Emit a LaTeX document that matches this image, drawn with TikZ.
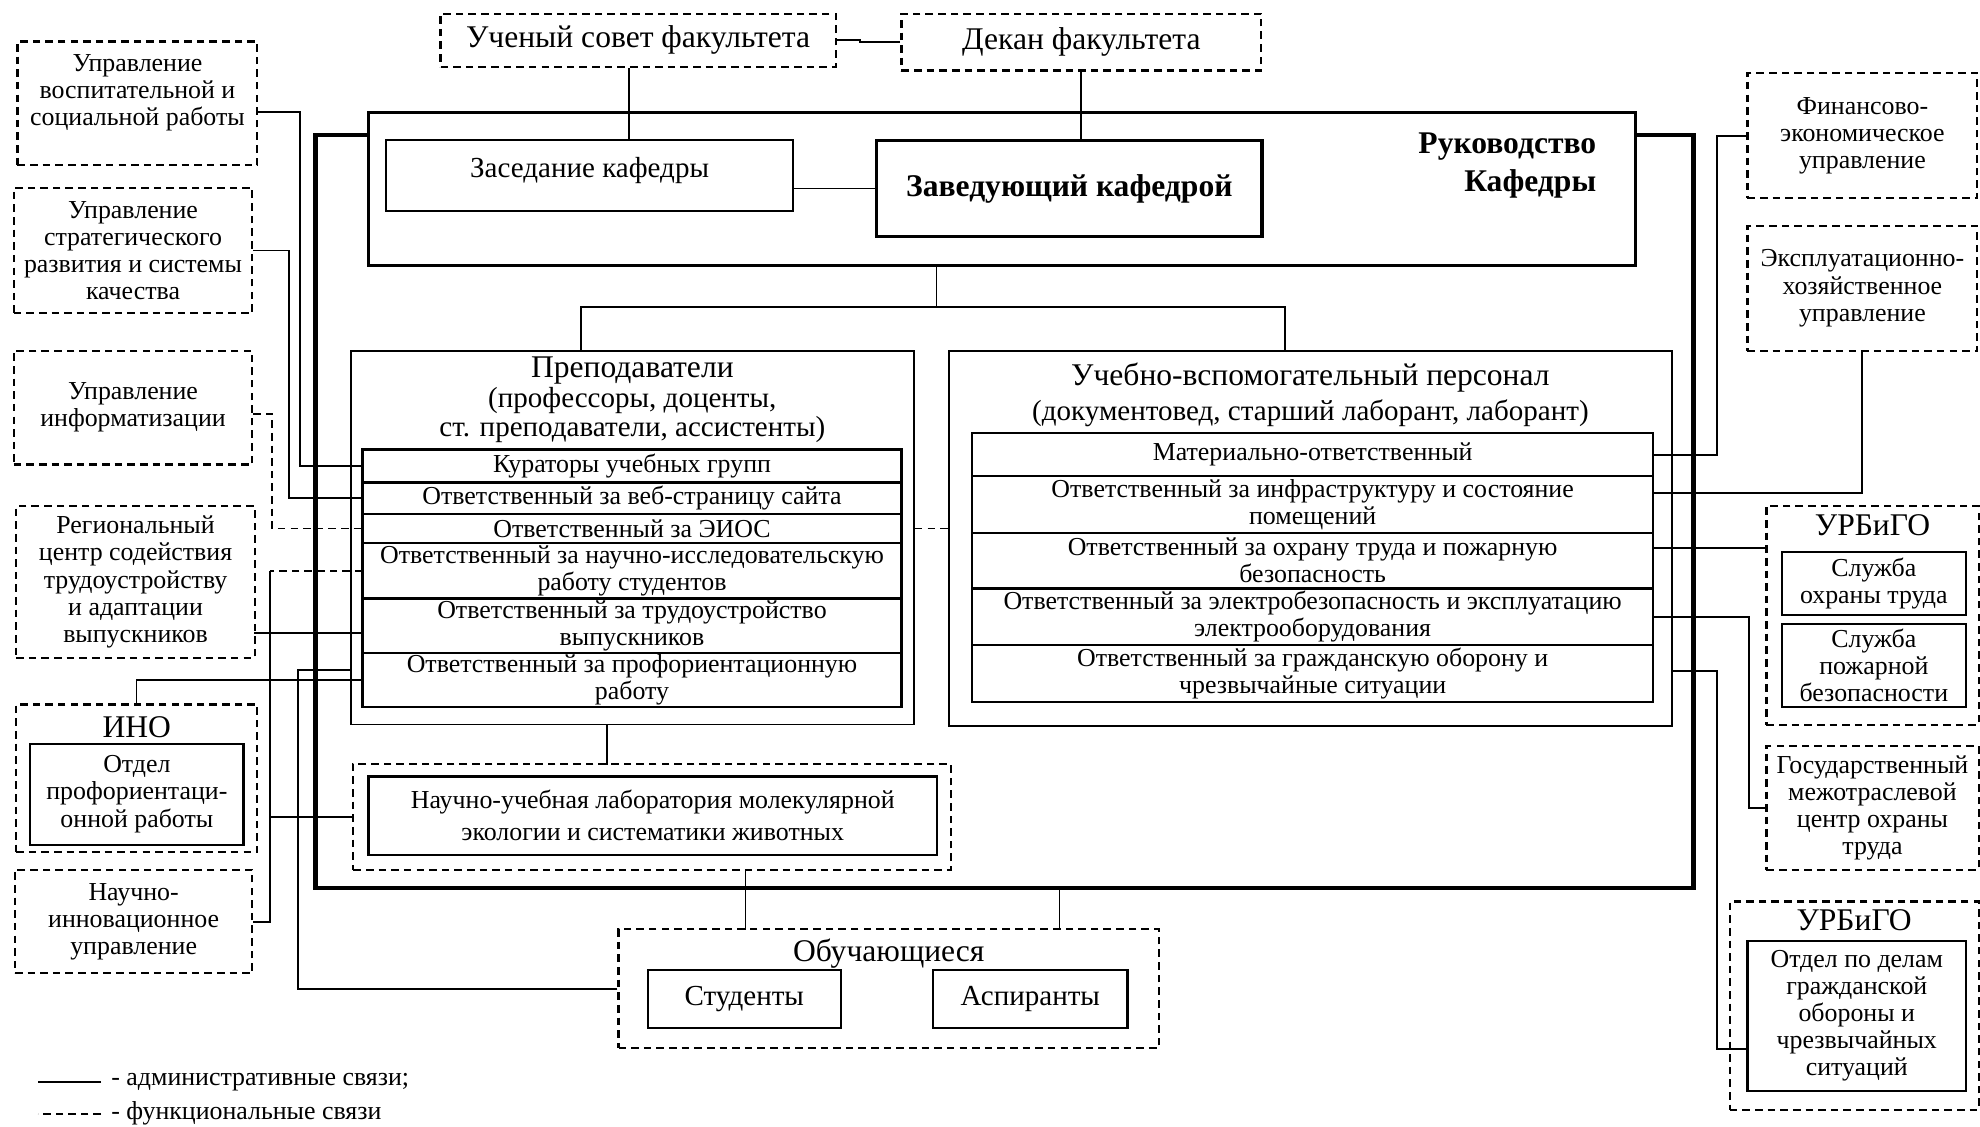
\documentclass[tikz,border=0pt]{standalone}
\usepackage{fontspec}
\setmainfont{Liberation Serif}
\usetikzlibrary{positioning}
\newcommand\sizeN{\fontsize{20.5}{21.5}\selectfont}
\newcommand\sizeM{\fontsize{23}{24}\selectfont}
\newcommand\sizeL{\fontsize{25}{27}\selectfont}
\tikzset{
  dbox/.style = {rectangle, draw=black, line width=1.7pt, dash pattern=on 6pt off 4pt, align=center, inner sep=0pt, anchor=north west, font=\sizeN},
  sbox/.style = {rectangle, draw=black, line width=1.8pt, align=center, inner sep=0pt, anchor=north west, font=\sizeN},
  rowbox/.style = {sbox, outer sep=0pt},
  ttl/.style = {anchor=north, align=center, inner sep=0pt, font=\sizeL},
  deptframe/.style = {line width=3.5pt},
  link/.style = {line width=1.5pt},
  flink/.style = {link, dash pattern=on 6pt off 4pt},
  thinlink/.style = {line width=0.9pt}
}

\begin{document}
\begin{tikzpicture}[x=1pt, y=-1pt]
  \useasboundingbox (0,0) rectangle (1568,892);

  % Faculty level
  \node (uchsovet) [dbox, minimum width=313, minimum height=42, font=\sizeL] at (348,10) {Ученый совет факультета};
  \node (dekan) [dbox, minimum width=285, minimum height=45, font=\sizeL] at (713,10) {Декан факультета};

  % Head of department block
  \node (ruk) [sbox, line width=2.2pt, minimum width=1003, minimum height=121] at (291,88) {};
  \node (rukt) [anchor=north east, align=right, inner sep=0pt, font=\sizeL\bfseries] at ([xshift=-32,yshift=-17]ruk.north east) {Руководство\\[3pt]Кафедры};
  \node (zasedanie) [sbox, minimum width=322, minimum height=56, text depth=12pt, font=\sizeM] at (305,110) {Заседание кафедры};
  \node (zavkaf) [sbox, line width=2.6pt, minimum width=305, minimum height=76, font=\sizeL\bfseries] at (693,110) {Заведующий кафедрой};

  % Teaching staff
  \node (prep) [sbox, line width=1.5pt, minimum width=446, minimum height=296] at (277,277) {};
  \node (prept) [ttl] at ([yshift=-5]prep.north) {Преподаватели\\[-3pt]\sizeM(профессоры, доценты,\\[-4pt]\sizeM ст. преподаватели, ассистенты)};
  \node (kur) [rowbox, minimum width=427, minimum height=26] at (287,356) {Кураторы учебных групп};
  \node (veb) [rowbox, minimum width=427, minimum height=25, below=0pt of kur] {Ответственный за веб-страницу сайта};
  \node (eios) [rowbox, minimum width=427, minimum height=23, below=0pt of veb] {Ответственный за ЭИОС};
  \node (nir) [rowbox, minimum width=427, minimum height=44, below=0pt of eios] {Ответственный за научно-исследовательскую\\работу студентов};
  \node (trud) [rowbox, minimum width=427, minimum height=43, below=0pt of nir] {Ответственный за трудоустройство\\выпускников};
  \node (prof) [rowbox, minimum width=427, minimum height=43, below=0pt of trud] {Ответственный за профориентационную\\работу};

  % Support staff
  \node (uvp) [sbox, line width=1.5pt, minimum width=572, minimum height=297] at (751,277) {};
  \node (uvpt) [ttl] at ([yshift=-10]uvp.north) {Учебно-вспомогательный персонал\\[1pt]\sizeM(документовед, старший лаборант, лаборант)};
  \node (mat) [rowbox, minimum width=539, minimum height=34] at (770,343) {Материально-ответственный};
  \node (infra) [rowbox, minimum width=539, minimum height=45, below=0pt of mat] {Ответственный за инфраструктуру и состояние\\помещений};
  \node (ohr) [rowbox, minimum width=539, minimum height=44, below=0pt of infra] {Ответственный за охрану труда и пожарную\\безопасность};
  \node (elec) [rowbox, minimum width=539, minimum height=45, below=0pt of ohr] {Ответственный за электробезопасность и эксплуатацию\\электрооборудования};
  \node (go) [rowbox, minimum width=539, minimum height=45, below=0pt of elec] {Ответственный за гражданскую оборону и\\чрезвычайные ситуации};

  % Laboratory
  \node (labo) [dbox, minimum width=473, minimum height=84] at (279,604) {};
  \node (lab) [sbox, minimum width=450, minimum height=62, font=\fontsize{20.5}{25}\selectfont] at (291,614) {Научно-учебная лаборатория молекулярной\\экологии и систематики животных};

  % Students
  \node (obuch) [dbox, minimum width=428, minimum height=94] at (489,735) {};
  \node (obucht) [ttl] at ([yshift=-8]obuch.north) {Обучающиеся};
  \node (stud) [sbox, minimum width=153, minimum height=46, font=\sizeM] at (512,767) {Студенты};
  \node (asp) [sbox, minimum width=154, minimum height=46, font=\sizeM] at (738,767) {Аспиранты};

  % Left units
  \node (vosp) [dbox, minimum width=190, minimum height=98, text depth=21pt] at (13,32) {Управление\\воспитательной и\\социальной работы};
  \node (strat) [dbox, minimum width=189, minimum height=99] at (10,148) {Управление\\стратегического\\развития и системы\\качества};
  \node (inf) [dbox, minimum width=189, minimum height=90] at (10,277) {Управление\\информатизации};
  \node (reg) [dbox, minimum width=189, minimum height=120] at (12,400) {Региональный\\центр содействия\\трудоустройству\\и адаптации\\выпускников};
  \node (ino) [dbox, minimum width=191, minimum height=117] at (12,557) {};
  \node (inot) [ttl] at ([yshift=-10]ino.north) {ИНО};
  \node (otdprof) [sbox, minimum width=169, minimum height=80] at (23,588) {Отдел\\профориентаци-\\онной работы};
  \node (ninn) [dbox, minimum width=188, minimum height=82] at (11,688) {Научно-\\инновационное\\управление};

  % Right units
  \node (fin) [dbox, minimum width=182, minimum height=99] at (1383,57) {Финансово-\\экономическое\\управление};
  \node (ekspl) [dbox, minimum width=182, minimum height=99] at (1383,178) {Эксплуатационно-\\хозяйственное\\управление};
  \node (urb) [dbox, minimum width=168, minimum height=173] at (1398,400) {};
  \node (urbt) [ttl] at ([yshift=-7]urb.north) {УРБиГО};
  \node (ohrs) [sbox, minimum width=146, minimum height=50] at (1410,436) {Служба\\охраны труда};
  \node (pozh) [sbox, minimum width=146, minimum height=66] at (1410,493) {Служба\\пожарной\\безопасности};
  \node (gmc) [dbox, minimum width=168, minimum height=98] at (1398,590) {Государственный\\межотраслевой\\центр охраны\\труда};
  \node (urbgo) [dbox, minimum width=197, minimum height=165] at (1369,713) {};
  \node (urbgot) [ttl] at ([yshift=-7]urbgo.north) {УРБиГО};
  \node (otdgo) [sbox, minimum width=173, minimum height=119] at (1383,744) {Отдел по делам\\гражданской\\обороны и\\чрезвычайных\\ситуаций};

  % Legend
  \node (legadm) [anchor=west, inner sep=0pt, font=\sizeN] at (88,857) {- административные связи;};
  \node (legfun) [anchor=west, inner sep=0pt, font=\sizeN] at (88,882) {- функциональные связи};

  % Department frame
  \coordinate (ftl) at (250,107);
  \coordinate (fbr) at (1341,703);
  \coordinate (fbot) at (839,703);
  \draw[deptframe] (ftl -| ruk.west) -- (ftl) |- (fbr) |- (ftl -| ruk.east);

  % Faculty links
  \draw[link] (uchsovet.east) -- ++(18,0) |- (dekan.west);
  \draw[link] ([xshift=-7]uchsovet.south) -- ++(0,58);
  \draw[link] (dekan.south) -- (dekan.south |- zavkaf.north);
  \draw[link] (zavkaf.west) -- (zavkaf.west -| zasedanie.east);

  % Head to staff
  \draw[link] ([xshift=-52]ruk.south) -- ++(0,32) coordinate (fork);
  \draw[link] ([xshift=-41]prep.north) |- (fork) -| ([xshift=-20]uvp.north);
  \draw[flink] (eios.east -| prep.east) -- (eios.east -| uvp.west);

  % Lab and students
  \draw[link] ([xshift=-20]prep.south) -- ++(0,31);
  \draw[link] ([xshift=74]labo.south) -- ++(0,47);
  \draw[link] (fbot) -- (fbot |- obuch.north);

  % Left side links
  \draw[link] ([yshift=-7]vosp.east) -- ++(33,0) |- (kur.west);
  \draw[link] (strat.east) -- ++(28,0) |- (veb.west);
  \draw[flink] ([yshift=-5]inf.east) -- ++(15,0) |- (eios.west);
  \draw[link] ([yshift=-6]trud.west) -- ++(-86,0);
  \draw[flink] (nir.west) -- ++(-73,0) coordinate (nirc);
  \draw[link] (nirc) |- (ninn.east);
  \draw[link] (nirc |- labo.west) -- (labo.west);
  \draw[thinlink] (prof.west) -| (ino.north);
  \draw[link] (obuch.west) -- ++(-253,0) |- ([yshift=-105]prep.west);

  % Right side links
  \draw[link] (mat.east) -- ++(51,0) |- (fin.west);
  \draw[link] (ekspl.south) |- ([yshift=9]infra.east);
  \draw[link] ([yshift=10]ohr.east) -- ++(89,0);
  \draw[link] (elec.east) -- ++(76,0) |- (gmc.west);
  \draw[link] ([yshift=-105]uvp.east) -- ++(35,0) |- ([yshift=-26]otdgo.west);

  % Legend samples
  \draw[link] ([xshift=-8]legadm.west) -- ++(-50,0);
  \draw[flink] ([xshift=-8]legfun.west) -- ++(-50,0);

\end{tikzpicture}
\end{document}
